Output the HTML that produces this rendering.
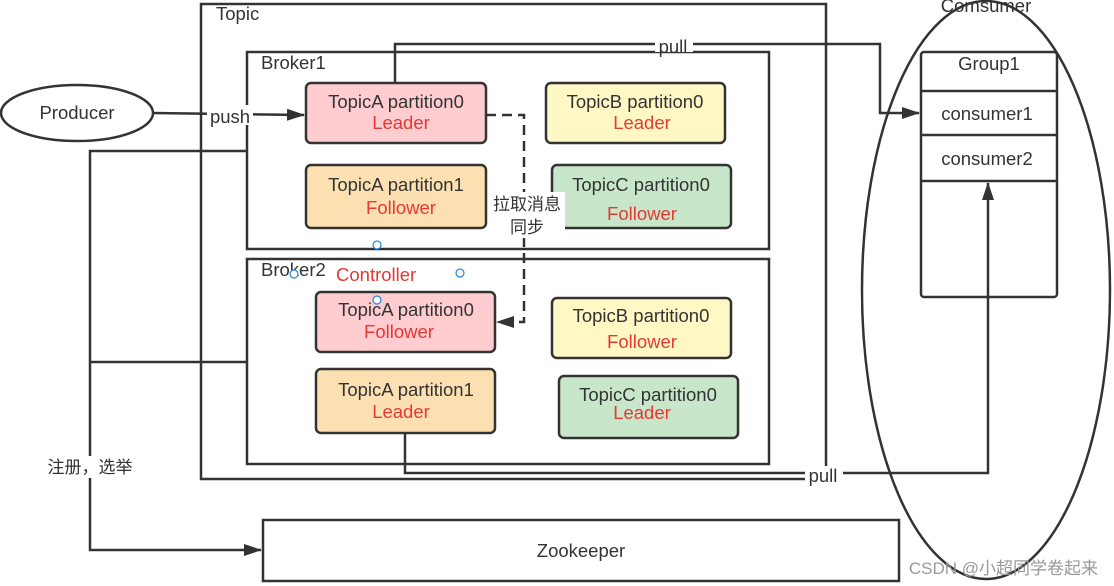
<!DOCTYPE html>
<html><head><meta charset="utf-8"><style>
html,body{margin:0;padding:0;background:#fff;overflow:hidden}
text{font-family:"Liberation Sans","Noto Sans CJK SC",sans-serif;font-size:18.5px;fill:#333}
.r{fill:#e53935}
</style></head><body>
<svg width="1114" height="586" viewBox="0 0 1114 586" xmlns="http://www.w3.org/2000/svg" style="display:block">
<defs><marker id="b" markerWidth="18" markerHeight="12" refX="17" refY="6" orient="auto" markerUnits="userSpaceOnUse"><path d="M0,0 L18,6 L0,12 Z" fill="#333"/></marker></defs>
<g fill="none" stroke="#333" stroke-width="2.5">
<rect x="201" y="4" width="625" height="475"/>
<rect x="247" y="52" width="522" height="197"/>
<rect x="247" y="259" width="522" height="205"/>
<ellipse cx="77" cy="113" rx="76" ry="28"/>
<ellipse cx="986" cy="290" rx="124" ry="289"/>
<rect x="921" y="52" width="136" height="245" rx="3"/>
<line x1="921" y1="91" x2="1057" y2="91"/>
<line x1="921" y1="135" x2="1057" y2="135"/>
<line x1="921" y1="181" x2="1057" y2="181"/>
<rect x="263" y="520" width="636" height="61"/>
<polyline points="395,83 395,44 880,44 880,113 919,113" marker-end="url(#b)"/>
<polyline points="405,433 405,473 988,473 988,183" marker-end="url(#b)"/>
<polyline points="486,115 524,115 524,322 497,322" stroke-dasharray="10,6" marker-end="url(#b)"/>
<polyline points="247,151 90,151 90,550 261,550" marker-end="url(#b)"/>
<line x1="247" y1="362" x2="90" y2="362"/>
<line x1="153" y1="113" x2="304" y2="115" marker-end="url(#b)"/>
</g>
<g stroke="#333" stroke-width="2.5">
<rect x="306" y="83" width="180" height="60" rx="5" fill="#ffccd0"/>
<rect x="546" y="83" width="179" height="60" rx="5" fill="#fff8c4"/>
<rect x="306" y="165" width="180" height="63" rx="5" fill="#fde0b2"/>
<rect x="552" y="165" width="179" height="63" rx="5" fill="#c8e6c9"/>
<rect x="316" y="292" width="179" height="60" rx="5" fill="#ffccd0"/>
<rect x="552" y="298" width="179" height="60" rx="5" fill="#fff8c4"/>
<rect x="316" y="369" width="179" height="64" rx="5" fill="#fde0b2"/>
<rect x="559" y="376" width="179" height="62" rx="5" fill="#c8e6c9"/>
</g>
<rect x="655" y="37" width="38" height="15" fill="#fff"/>
<rect x="805" y="466" width="38" height="15" fill="#fff"/>
<rect x="207" y="105" width="46" height="20" fill="#fff"/>
<rect x="489" y="192" width="76" height="46" fill="#fff"/>
<rect x="42" y="456" width="96" height="22" fill="#fff"/>
<text x="216" y="20">Topic</text>
<text x="261" y="69">Broker1</text>
<text x="261" y="276">Broker2</text>
<text x="336" y="281" class="r">Controller</text>
<text x="77" y="119" text-anchor="middle">Producer</text>
<text x="230" y="123" text-anchor="middle">push</text>
<text x="673" y="53" text-anchor="middle">pull</text>
<text x="823" y="482" text-anchor="middle">pull</text>
<text x="986" y="12" text-anchor="middle">Comsumer</text>
<text x="989" y="70" text-anchor="middle">Group1</text>
<text x="987" y="120" text-anchor="middle">consumer1</text>
<text x="987" y="165" text-anchor="middle">consumer2</text>
<text x="581" y="557" text-anchor="middle">Zookeeper</text>
<text x="527" y="210" text-anchor="middle" style="font-size:17px">拉取消息</text>
<text x="527" y="233" text-anchor="middle" style="font-size:17px">同步</text>
<text x="90" y="473" text-anchor="middle" style="font-size:17px">注册，选举</text>
<g text-anchor="middle">
<text x="396" y="108">TopicA partition0</text><text x="401" y="129" class="r">Leader</text>
<text x="635" y="108">TopicB partition0</text><text x="642" y="129" class="r">Leader</text>
<text x="396" y="191">TopicA partition1</text><text x="401" y="214" class="r">Follower</text>
<text x="641" y="191">TopicC partition0</text><text x="642" y="220" class="r">Follower</text>
<text x="406" y="316">TopicA partition0</text><text x="399" y="338" class="r">Follower</text>
<text x="641" y="322">TopicB partition0</text><text x="642" y="348" class="r">Follower</text>
<text x="406" y="396">TopicA partition1</text><text x="401" y="418" class="r">Leader</text>
<text x="648" y="401">TopicC partition0</text><text x="642" y="419" class="r">Leader</text>
</g>
<g fill="#fff" stroke="#1e88e5" stroke-width="1.2">
<circle cx="377" cy="245" r="4"/><circle cx="294" cy="274" r="4"/><circle cx="460" cy="273" r="4"/><circle cx="377" cy="300" r="4"/>
</g>
<text x="1098" y="574" text-anchor="end" style="font-size:17px;fill:#999">CSDN @小超同学卷起来</text>
</svg>
</body></html>
